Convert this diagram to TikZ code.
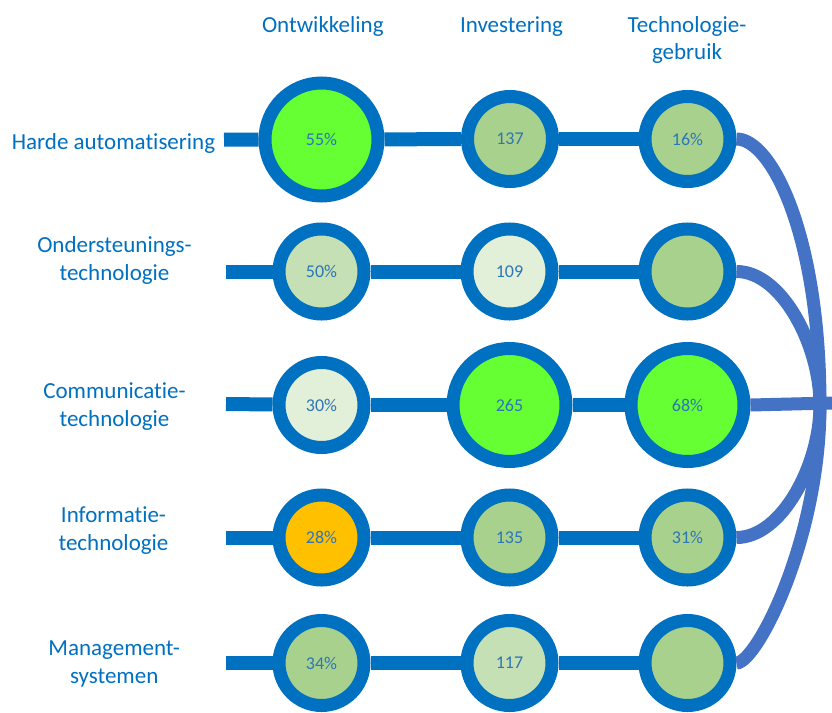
\documentclass[tikz,border=0pt]{standalone}
\usepackage{fontspec}
\setmainfont{Carlito}[Ligatures={NoCommon}]
\definecolor{ringblue}{HTML}{0070C0}
\definecolor{curveblue}{HTML}{4472C4}
\definecolor{numblue}{HTML}{2E75B6}
\definecolor{brightgreen}{HTML}{66FF33}
\definecolor{midgreen}{HTML}{A9D18E}
\definecolor{paleA}{HTML}{C5E0B4}
\definecolor{paleB}{HTML}{E2F0D9}
\definecolor{amber}{HTML}{FFC000}
\begin{document}
\begin{tikzpicture}[x=1pt,y=-1pt,
  ring/.style={circle, draw=ringblue, line width=13pt, inner sep=0pt,
    font=\fontsize{18}{20}\selectfont, text=numblue},
  bigc/.style={ring, minimum size=113pt},
  smallc/.style={ring, minimum size=85pt},
  bar/.style={draw=ringblue, line width=14pt},
  link/.style={draw=curveblue, line width=13pt},
  lab/.style={text=ringblue, font=\fontsize{23}{28}\selectfont, align=center, anchor=base, inner sep=0pt},
  head/.style={text=ringblue, font=\fontsize{23}{27}\selectfont, align=center, anchor=base, inner sep=0pt}]
\useasboundingbox (0,0) rectangle (832,712);

% headers (anchor base = baseline of last line)
\node[head] (hO) at (322.8,32.3) {Ontwikkeling};
\node[head] (hI) at (511.5,32.3) {Investering};
\node[head] (hT) at (687,59.3) {Technologie-\\gebruik};

% row labels
\node[lab] (r1) at (113.5,149.3) {Harde automatisering};
\node[lab] (r2) at (114.5,280) {Ondersteunings-\\technologie};
\node[lab] (r3) at (114.5,426) {Communicatie-\\technologie};
\node[lab] (r4) at (113.5,550) {Informatie-\\technologie};
\node[lab] (r5) at (114.2,683.5) {Management-\\systemen};

% circles
\node[bigc, fill=brightgreen] (o1) at (321.5,139.5) {55\%};
\node[smallc, fill=midgreen] (i1) at (510,139) {137};
\node[smallc, fill=midgreen] (t1) at (687.5,139) {16\%};

\node[smallc, fill=paleA] (o2) at (321.5,271.5) {50\%};
\node[smallc, fill=paleB] (i2) at (509.5,271.5) {109};
\node[smallc, fill=midgreen] (t2) at (687.5,271.5) {};

\node[smallc, fill=paleB] (o3) at (321.5,405) {30\%};
\node[bigc, fill=brightgreen] (i3) at (509.5,405) {265};
\node[bigc, fill=brightgreen] (t3) at (687.5,405) {68\%};

\node[smallc, fill=amber] (o4) at (321.5,537.5) {28\%};
\node[smallc, fill=midgreen] (i4) at (509.5,537.5) {135};
\node[smallc, fill=midgreen] (t4) at (687.5,537.5) {31\%};

\node[smallc, fill=midgreen] (o5) at (321.5,663) {34\%};
\node[smallc, fill=paleA] (i5) at (509.5,663) {117};
\node[smallc, fill=midgreen] (t5) at (687.5,663) {};

% free ends
\coordinate (s1) at (224,139.7);
\coordinate (s2) at (226,271.5);
\coordinate (s3) at (226,404);
\coordinate (s4) at (226,537.5);
\coordinate (s5) at (226,663);
\coordinate (m) at (820,405);
\coordinate (e3) at (832,403);

% horizontal bars
\draw[bar] (s1) -- (o1); \draw[bar] (o1) -- (i1); \draw[bar] (i1) -- (t1);
\draw[bar] (s2) -- (o2); \draw[bar] (o2) -- (i2); \draw[bar] (i2) -- (t2);
\draw[bar] (s3) -- (o3); \draw[bar] (o3) -- (i3); \draw[bar] (i3) -- (t3);
\draw[bar] (s4) -- (o4); \draw[bar] (o4) -- (i4); \draw[bar] (i4) -- (t4);
\draw[bar] (s5) -- (o5); \draw[bar] (o5) -- (i5); \draw[bar] (i5) -- (t5);

% connectors on the right
\draw[link] (t1.east) .. controls +(35,0) and +(0,-170) .. (m);
\draw[link] (t2.east) .. controls +(45,0) and +(0,-60) .. (m);
\draw[link] (t3.east) -- (e3);
\draw[link] (t4.east) .. controls +(45,0) and +(0,60) .. (m);
\draw[link] (t5.east) .. controls +(20,0) and +(0,135) .. (m);
\end{tikzpicture}
\end{document}
